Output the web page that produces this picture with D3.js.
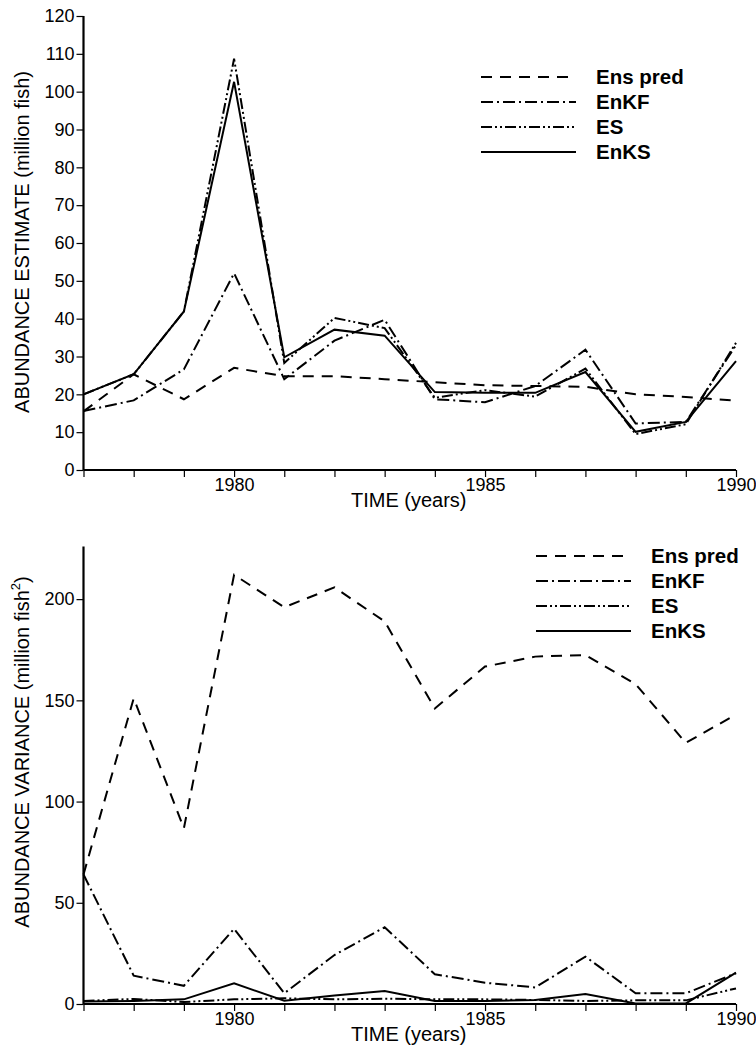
<!DOCTYPE html>
<html>
<head>
<meta charset="utf-8">
<script src="https://cdn.jsdelivr.net/npm/d3@7/dist/d3.min.js"></script>
<style>
  html, body { margin: 0; padding: 0; background: #fff; }
  svg { display: block; }
  text { font-family: "Liberation Sans", Arial, Helvetica, sans-serif; fill: #000; }
</style>
</head>
<body>
<svg id="chart" width="756" height="1053"></svg>
<script>
// ---- data ----
const years = [1977, 1978, 1979, 1980, 1981, 1982, 1983, 1984, 1985, 1986, 1987, 1988, 1989, 1990];
const seriesNames = ["Ens pred", "EnKF", "ES", "EnKS"];

// Top panel: abundance estimate (million fish)
const estEnsPred = [15.5, 25.3, 18.7, 27.0, 24.8, 24.8, 24.0, 23.2, 22.4, 22.2, 22.0, 20.0, 19.3, 18.3];
const estEnKF    = [15.6, 18.4, 26.6, 52.0, 24.0, 34.2, 39.7, 18.7, 17.9, 22.2, 31.8, 12.3, 12.7, 33.0];
const estES      = [20.0, 25.3, 41.9, 108.7, 28.3, 40.2, 37.5, 19.1, 21.1, 19.4, 26.8, 9.5, 12.1, 33.6];
const estEnKS    = [20.0, 25.3, 41.9, 102.6, 29.8, 37.1, 35.5, 20.6, 20.4, 20.4, 25.9, 10.1, 12.7, 28.8];

// Bottom panel: abundance variance (million fish^2)
const varEnsPred = [64, 151, 86.8, 212, 196, 205.8, 189, 146, 166.7, 171.6, 172.4, 158, 129, 143];
const varEnKF    = [64, 14.0, 9.0, 37.1, 5.3, 24.2, 37.9, 14.7, 10.5, 8.2, 23.4, 5.3, 5.3, 15.2];
const varES      = [1.5, 2.5, 1.0, 2.3, 2.8, 2.3, 2.6, 2.3, 2.3, 2.0, 1.5, 1.8, 1.8, 7.7];
const varEnKS    = [1.2, 1.5, 2.3, 10.2, 1.6, 4.2, 6.4, 1.5, 1.5, 2.0, 4.9, 0.3, 0.3, 15.5];

const xTickLabels = [1980, 1985, 1990];
const estTicks = [0, 10, 20, 30, 40, 50, 60, 70, 80, 90, 100, 110, 120];
const varTicks = [0, 50, 100, 150, 200];

// ---- styles ----
const dashes = {
  "Ens pred": "11,8",
  "EnKF": "12,4,2,4",
  "ES": "11,3,2,3,2,3",
  "EnKS": null
};

const svg = d3.select("#chart");

const x = d3.scaleLinear().domain([1977, 1990]).range([83.5, 736]);

function panel(cfg) {
  const g = svg.append("g");
  const y = d3.scaleLinear().domain(cfg.yDomain).range([cfg.yBottom, cfg.yTop]);

  // x axis
  const xAxis = d3.axisBottom(x)
    .tickValues(years)
    .tickSize(7)
    .tickFormat(d => xTickLabels.includes(d) ? String(d) : "");
  const gx = g.append("g").attr("transform", `translate(0,${cfg.yBottom})`).call(xAxis);
  gx.select(".domain").attr("stroke-width", 2.2).attr("d", `M${x(1977)},0H${x(1990)}`);
  gx.selectAll(".tick line").attr("stroke-width", 1.2);
  gx.selectAll(".tick text").attr("font-size", 18).attr("dy", "0.35em").attr("y", 15);

  // y axis
  const yAxis = d3.axisLeft(y).tickValues(cfg.yTicks).tickSize(7).tickFormat(d3.format("d"));
  const gy = g.append("g").attr("transform", `translate(${x(1977)},0)`).call(yAxis);
  gy.select(".domain").attr("stroke-width", 2.2).attr("d", `M0,${cfg.yBottom - cfg.yBottom}V${y(cfg.yDomain[1]) - 0}`)
    .attr("d", `M0,${y(0)}V${y(cfg.yDomain[1])}`);
  gy.selectAll(".tick line").attr("stroke-width", 1.2);
  gy.selectAll(".tick text").attr("font-size", 18).attr("x", -9);

  // lines
  const line = d3.line().x((d, i) => x(years[i])).y(d => y(d));
  cfg.series.forEach((vals, k) => {
    const name = seriesNames[k];
    g.append("path")
      .datum(vals)
      .attr("d", line)
      .attr("fill", "none")
      .attr("stroke", "#000")
      .attr("stroke-width", 2)
      .attr("stroke-linejoin", "miter")
      .attr("stroke-dasharray", dashes[name]);
  });

  // x label
  g.append("text")
    .attr("x", (x(1977) + x(1990)) / 2 - 1)
    .attr("y", cfg.yBottom + 30)
    .attr("dy", "0.35em")
    .attr("text-anchor", "middle")
    .attr("font-size", 20)
    .text("TIME (years)");

  // y label
  const yl = g.append("text")
    .attr("transform", `translate(22,${cfg.yLabelCenter}) rotate(-90)`)
    .attr("text-anchor", "middle")
    .attr("dy", "0.35em")
    .attr("font-size", 20);
  cfg.yLabel(yl);

  // legend
  const lg = g.append("g");
  seriesNames.forEach((name, k) => {
    const ry = cfg.legendY + k * cfg.legendStep;
    lg.append("line")
      .attr("x1", cfg.legendX).attr("x2", cfg.legendX + 95)
      .attr("y1", ry).attr("y2", ry)
      .attr("stroke", "#000").attr("stroke-width", 2)
      .attr("stroke-dasharray", dashes[name]);
    lg.append("text")
      .attr("x", cfg.legendX + 115)
      .attr("y", ry)
      .attr("dy", "0.35em")
      .attr("font-size", 20.5)
      .attr("font-weight", "bold")
      .text(name);
  });
}

panel({
  yDomain: [0, 120],
  yTop: 16,
  yBottom: 470,
  yTicks: estTicks,
  series: [estEnsPred, estEnKF, estES, estEnKS],
  yLabelCenter: 242,
  yLabel: t => t.text("ABUNDANCE ESTIMATE (million fish)"),
  legendX: 481,
  legendY: 77,
  legendStep: 25
});

panel({
  yDomain: [0, 226],
  yTop: 546.5,
  yBottom: 1004,
  yTicks: varTicks,
  series: [varEnsPred, varEnKF, varES, varEnKS],
  yLabelCenter: 752,
  yLabel: t => {
    t.append("tspan").text("ABUNDANCE VARIANCE (million fish");
    t.append("tspan").attr("font-size", 13).attr("dy", "-0.7em").text("2");
    t.append("tspan").attr("dy", "0.45em").text(")");
  },
  legendX: 536,
  legendY: 556,
  legendStep: 25
});
</script>
</body>
</html>
